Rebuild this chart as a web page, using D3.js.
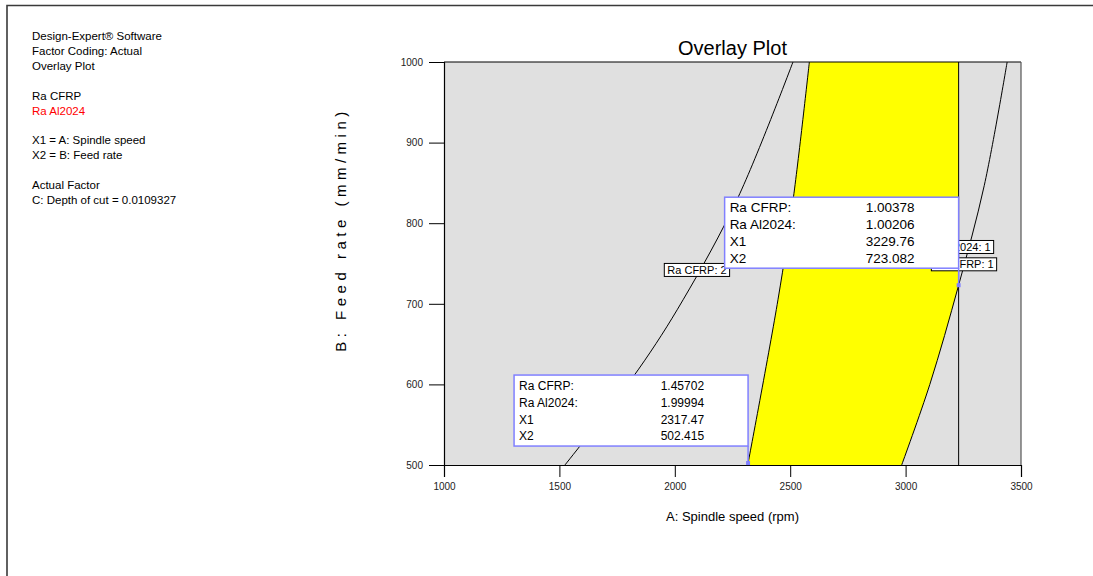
<!DOCTYPE html>
<html>
<head>
<meta charset="utf-8">
<script src="https://cdn.jsdelivr.net/npm/d3@7"></script>
<style>
  body { margin: 0; background: #fff; }
  text { font-family: Arial, "Liberation Sans", sans-serif; }
</style>
</head>
<body>
<svg id="chart" width="1093" height="576"></svg>
<script>
// Factor ranges and ticks
const spindleDomain = [1000, 3500];
const feedDomain = [500, 1000];
const spindleTicks = [1000, 1500, 2000, 2500, 3000, 3500];
const feedTicks = [500, 600, 700, 800, 900, 1000];

// Contour traces: [spindle speed (rpm), feed rate (mm/min)]
const raCfrp2 = [[1524, 500], [1841, 618], [2036, 705], [2274, 832], [2512, 1000]];
const raCfrp1 = [[2983, 500], [3105, 600], [3229.76, 723.082], [3341, 847], [3440, 1000]];
const raAl2 = [[2316, 500], [2447, 705], [2514, 832], [2583, 1000]];
const raAl1 = [[3229.76, 500], [3229.76, 1000]];

// Contour labels sit on their contour
const contourLabelText = ["Ra CFRP: 2", "Ra Al2024: 1", "Ra CFRP: 1"];
const contourLabelAt = [[2096, 742], [3232, 770.5], [3253, 749]];

// Flag readouts
const flagRows = ["Ra CFRP:", "Ra Al2024:", "X1", "X2"];
const flagLow = [1.45702, 1.99994, 2317.47, 502.415];
const flagHigh = [1.00378, 1.00206, 3229.76, 723.082];

// Legend panel text
const infoLines = [
  ["Design-Expert® Software", "#000"],
  ["Factor Coding: Actual", "#000"],
  ["Overlay Plot", "#000"],
  ["", "#000"],
  ["Ra CFRP", "#000"],
  ["Ra Al2024", "#ff0000"],
  ["", "#000"],
  ["X1 = A: Spindle speed", "#000"],
  ["X2 = B: Feed rate", "#000"],
  ["", "#000"],
  ["Actual Factor", "#000"],
  ["C: Depth of cut = 0.0109327", "#000"]
];

const svg = d3.select("#chart");
const plot = { left: 444, right: 1021, top: 62, bottom: 465 };

const x = d3.scaleLinear().domain(spindleDomain).range([plot.left, plot.right]);
const y = d3.scaleLinear().domain(feedDomain).range([plot.bottom, plot.top]);

// Outer frame (left and top edges)
svg.append("path")
  .attr("d", "M7,576 V5.5 H1093")
  .attr("fill", "none").attr("stroke", "#3a3a3a").attr("stroke-width", 1.6);

// Info panel
svg.append("g").selectAll("text").data(infoLines).join("text")
  .attr("x", 32)
  .attr("y", (d, i) => 40 + i * 14.9)
  .attr("font-size", 11.5)
  .attr("fill", d => d[1])
  .text(d => d[0]);

// Plot background
svg.append("rect")
  .attr("x", plot.left).attr("y", plot.top)
  .attr("width", plot.right - plot.left).attr("height", plot.bottom - plot.top)
  .attr("fill", "#e0e0e0");

const curve = d3.line().x(d => x(d[0])).y(d => y(d[1])).curve(d3.curveCatmullRom.alpha(0.5));

// Feasible (yellow) window: between Ra Al2024 = 2 and Ra CFRP = 1, left of Ra Al2024 = 1
svg.append("clipPath").attr("id", "winClip")
  .append("rect")
  .attr("x", plot.left).attr("y", plot.top)
  .attr("width", x(raAl1[0][0]) - plot.left).attr("height", plot.bottom - plot.top);

const leftEdge = curve(raAl2);
const rightEdge = curve(raCfrp1.slice().reverse()).replace(/^M/, "L");
svg.append("path")
  .attr("d", leftEdge + rightEdge + "Z")
  .attr("fill", "#ffff00")
  .attr("clip-path", "url(#winClip)");

// Contour lines
[raCfrp2, raCfrp1, raAl2, raAl1].forEach(c => {
  svg.append("path")
    .attr("d", curve(c))
    .attr("fill", "none")
    .attr("stroke", "#000")
    .attr("stroke-width", 1);
});

// Plot frame
svg.append("line").attr("x1", plot.left).attr("x2", plot.right).attr("y1", plot.top).attr("y2", plot.top)
  .attr("stroke", "#000").attr("stroke-width", 1.2);
svg.append("line").attr("x1", plot.right).attr("x2", plot.right).attr("y1", plot.top).attr("y2", plot.bottom)
  .attr("stroke", "#555").attr("stroke-width", 1.2);

// Axes
const xAxis = d3.axisBottom(x).tickValues(spindleTicks).tickSize(12).tickPadding(6).tickFormat(d3.format("d"));
const yAxis = d3.axisLeft(y).tickValues(feedTicks).tickSize(15).tickPadding(6).tickFormat(d3.format("d"));

const gx = svg.append("g").attr("transform", `translate(0,${plot.bottom})`).call(xAxis);
const gy = svg.append("g").attr("transform", `translate(${plot.left},0)`).call(yAxis);
[gx, gy].forEach(g => {
  g.select(".domain").attr("stroke", "#000").attr("stroke-width", 1.2);
  g.selectAll(".tick line").attr("stroke", "#000");
  g.selectAll(".tick text").attr("font-size", 10).attr("fill", "#222")
    .attr("font-family", "Arial, 'Liberation Sans', sans-serif");
});

// Titles
svg.append("text")
  .attr("x", (plot.left + plot.right) / 2).attr("y", 55)
  .attr("text-anchor", "middle").attr("font-size", 20).attr("fill", "#000")
  .text("Overlay Plot");

svg.append("text")
  .attr("x", (plot.left + plot.right) / 2).attr("y", 521)
  .attr("text-anchor", "middle").attr("font-size", 13).attr("fill", "#000")
  .text("A: Spindle speed (rpm)");

svg.append("text")
  .attr("transform", `translate(346,${(plot.top + plot.bottom) / 2 - 34}) rotate(-90)`)
  .attr("text-anchor", "middle").attr("font-size", 15).attr("letter-spacing", 4.5).attr("fill", "#000")
  .text("B: Feed rate (mm/min)");

// Contour labels
contourLabelText.forEach((t, i) => {
  const g = svg.append("g")
    .attr("transform", `translate(${x(contourLabelAt[i][0])},${y(contourLabelAt[i][1])})`);
  const txt = g.append("text")
    .attr("text-anchor", "middle").attr("y", 4).attr("font-size", 11).attr("fill", "#000")
    .text(t);
  const w = txt.node().getComputedTextLength() + 6;
  g.insert("rect", "text")
    .attr("x", -w / 2).attr("y", -6.5).attr("width", w).attr("height", 13)
    .attr("fill", "#fff").attr("stroke", "#000").attr("stroke-width", 1);
});

// Flags
const flagColor = "#8080ff";
function drawFlag(vals, fontSize) {
  const px = x(vals[2]), py = y(vals[3]);
  const w = 234, h = 71;
  const left = px - w, top = py - 17 - h;
  svg.append("line")
    .attr("x1", px).attr("x2", px).attr("y1", top + h).attr("y2", py)
    .attr("stroke", flagColor).attr("stroke-width", 1.5);
  svg.append("rect")
    .attr("x", left).attr("y", top).attr("width", w).attr("height", h)
    .attr("fill", "#fff").attr("stroke", flagColor).attr("stroke-width", 1.5);
  svg.append("rect")
    .attr("x", px - 2).attr("y", py - 2).attr("width", 4).attr("height", 4)
    .attr("fill", flagColor);
  flagRows.forEach((r, i) => {
    const by = top + 15 + i * 16.8;
    svg.append("text").attr("x", left + 5).attr("y", by)
      .attr("font-size", fontSize).attr("fill", "#000").text(r);
    svg.append("text").attr("x", left + 190).attr("y", by)
      .attr("text-anchor", "end").attr("font-size", fontSize).attr("fill", "#000")
      .text(String(vals[i]));
  });
}
drawFlag(flagLow, 12);
drawFlag(flagHigh, 13.5);
</script>
</body>
</html>
